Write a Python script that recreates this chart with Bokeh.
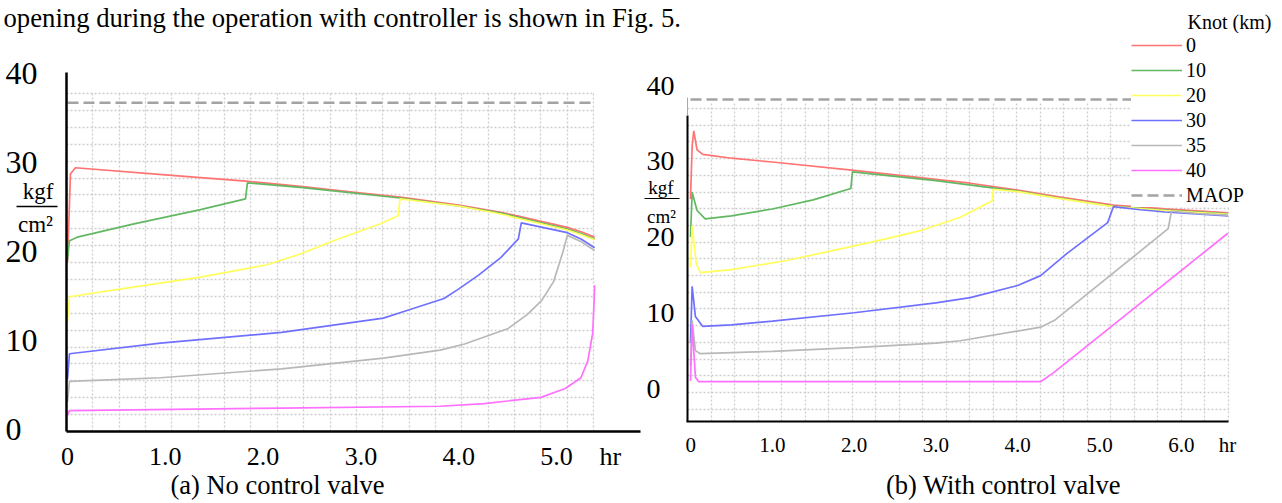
from bokeh.plotting import figure
from bokeh.layouts import row
from bokeh.models import Range1d, FixedTicker, Grid, LinearAxis, Legend, LegendItem
from bokeh.core.properties import value
from bokeh.embed import file_html
from bokeh.resources import INLINE

FONT = "Liberation Serif"

# ---------------- data: (a) No control valve ----------------
a_red_t = [0, 0.03, 0.08, 1.0, 1.82, 2.38, 2.89, 3.4, 4.0, 4.43, 4.63, 5.11, 5.25, 5.39]
a_red_v = [18.7, 28.6, 29.3, 28.5, 27.8, 27.2, 26.6, 26.0, 25.1, 24.3, 23.8, 22.6, 22.1, 21.5]
a_green_t = [0, 0.02, 0.1, 0.68, 1.36, 1.82, 1.84, 2.38, 3.4, 4.0, 4.43, 5.11, 5.25, 5.39]
a_green_v = [19.0, 21.1, 21.5, 23.0, 24.6, 25.8, 27.6, 27.1, 25.9, 25.0, 24.2, 22.4, 21.9, 21.3]
a_yellow_t = [0, 0.02, 0.5, 1.36, 2.04, 2.38, 2.72, 3.2, 3.38, 3.40, 4.0, 4.43, 5.11, 5.25, 5.39]
a_yellow_v = [12.0, 14.8, 15.6, 17.0, 18.4, 19.6, 21.1, 23.0, 23.9, 25.8, 25.0, 24.1, 22.3, 21.8, 21.2]
a_blue_t = [0, 0.02, 0.95, 2.19, 3.23, 3.4, 3.85, 3.99, 4.2, 4.43, 4.61, 4.64, 5.11, 5.25, 5.39]
a_blue_v = [5.5, 8.4, 9.6, 10.8, 12.4, 13.0, 14.6, 15.6, 17.2, 19.2, 21.3, 23.1, 22.0, 21.3, 20.3]
a_gray_t = [0, 0.02, 0.95, 2.19, 3.23, 3.81, 4.06, 4.5, 4.7, 4.85, 4.97, 5.07, 5.11, 5.25, 5.39]
a_gray_v = [3.0, 5.3, 5.7, 6.7, 7.9, 8.8, 9.5, 11.2, 12.8, 14.4, 16.5, 20.0, 21.7, 21.0, 20.0]
a_pink_t = [0, 0.02, 2.19, 3.81, 4.26, 4.84, 5.09, 5.25, 5.32, 5.37, 5.385, 5.39]
a_pink_v = [1.5, 2.0, 2.3, 2.5, 2.8, 3.5, 4.5, 5.7, 7.6, 10.7, 14.4, 16.1]
a_maop_t = [0, 5.39]
a_maop_v = [36.6, 36.6]

# ---------------- data: (b) With control valve ----------------
b_red_t = [0, 0.02, 0.04, 0.08, 0.15, 0.5, 1.0, 2.0, 3.0, 3.42, 4.0, 4.5, 5.17, 5.8, 6.57]
b_red_v = [25.0, 32.0, 34.0, 31.5, 30.9, 30.4, 29.9, 28.8, 27.6, 27.1, 26.2, 25.3, 24.2, 23.7, 23.2]
b_green_t = [0, 0.02, 0.08, 0.18, 0.5, 1.0, 1.5, 1.96, 1.98, 3.0, 4.0, 4.5, 5.17, 5.8, 6.57]
b_green_v = [20.0, 25.9, 23.5, 22.4, 22.8, 23.7, 24.9, 26.4, 28.6, 27.45, 26.05, 25.15, 24.05, 23.55, 23.05]
b_yellow_t = [0, 0.02, 0.07, 0.12, 0.5, 1.18, 2.2, 2.8, 3.3, 3.69, 3.7, 4.0, 4.5, 5.17, 5.8, 6.57]
b_yellow_v = [16.0, 21.5, 16.5, 15.3, 15.7, 16.9, 19.3, 20.8, 22.6, 24.8, 26.3, 26.0, 25.1, 24.0, 23.5, 23.0]
b_blue_t = [0, 0.02, 0.06, 0.15, 0.5, 1.0, 2.0, 3.0, 3.42, 4.0, 4.28, 4.6, 5.1, 5.17, 5.5, 5.8, 6.57]
b_blue_v = [6.0, 13.5, 9.5, 8.2, 8.4, 8.9, 10.0, 11.3, 12.0, 13.6, 14.9, 17.8, 21.9, 24.0, 23.6, 23.3, 22.8]
b_gray_t = [0, 0.02, 0.06, 0.12, 1.0, 2.0, 3.0, 3.3, 4.28, 4.45, 5.84, 5.88, 6.2, 6.57]
b_gray_v = [3.0, 9.0, 5.0, 4.6, 4.9, 5.4, 6.0, 6.3, 8.1, 9.0, 21.1, 23.4, 23.1, 22.9]
b_pink_t = [0, 0.02, 0.06, 0.1, 4.28, 4.44, 6.57]
b_pink_v = [1.0, 8.5, 1.5, 0.9, 0.9, 2.1, 20.5]
b_maop_t = [0, 6.57]
b_maop_v = [38.15, 38.15]

legend_labels = ["0", "10", "20", "30", "35", "40", "MAOP"]
legend_title = "Knot (km)"
y_ticks = [0, 10, 20, 30, 40]
a_y_labels = ["0\u2007", "10", "20", "30", "40"]
a_x_ticks = [0, 1, 2, 3, 4, 5, 5.55]
a_x_labels = ["0", "1.0", "2.0", "3.0", "4.0", "5.0", "hr"]
b_x_ticks = [0, 1, 2, 3, 4, 5, 6, 6.565]
b_x_labels = ["0", "1.0", "2.0", "3.0", "4.0", "5.0", "6.0", "hr"]
header_text = "opening during the operation with controller is shown in Fig. 5."
caption_a = "(a) No control valve"
caption_b = "(b) With control valve"
unit_top = "kgf"
unit_bottom = "cm\u00b2"

COLORS = ["#ff7373", "#62b862", "#ffff5c", "#7070ff", "#b8b8b8", "#ff70ff"]
MAOP_COLOR = "#a3a3a3"
GRID_COLOR = "#cdcdcd"


# picture pixel -> data helpers, used only to place texts and axis rules (layout)
def ax_(px):
    return (px - 67) / 97.8


def ay_(py):
    return (428 - py) / 8.9


def bx_(px):
    return (px - 690) / 81.8


def by_(py):
    return (388 - py) / 7.575


def style_common(p):
    p.outline_line_color = None
    p.background_fill_color = "white"
    p.border_fill_color = "white"
    for g in p.xgrid + p.ygrid:
        g.grid_line_color = None


def add_grid(p, gx_rng, gy_rng, xt, yt, xcb, ycb):
    p.extra_x_ranges = {"gx": Range1d(*gx_rng)}
    p.extra_y_ranges = dict(p.extra_y_ranges, gy=Range1d(*gy_rng))
    kw = dict(x_range_name="gx", y_range_name="gy", grid_line_color=GRID_COLOR,
              grid_line_dash="2 2", grid_line_width=1.3)
    p.add_layout(Grid(dimension=0, ticker=FixedTicker(ticks=xt), cross_bounds=xcb, **kw))
    p.add_layout(Grid(dimension=1, ticker=FixedTicker(ticks=yt), cross_bounds=ycb, **kw))


def txt(p, x, y, text, size, align="left"):
    # y is the vertical middle of the text line
    p.text(x=[x], y=[y], text=[text], text_font=value(FONT), text_font_size=value(size),
           text_color="black", text_align=align, text_baseline="middle", level="overlay")


def style_axis(ax, width):
    ax.axis_line_color = "black"
    ax.axis_line_width = width
    ax.major_tick_line_color = None
    ax.minor_tick_line_color = None
    ax.major_label_text_font = FONT
    ax.major_label_text_color = "black"


W, H = 1282, 503
W_A = 685
# both figures share the same top/bottom borders (frames are aligned in a row):
# frames from y=20 to y=431
TOP_B = 20
BOT_B = H - 431

# ================= panel (a) =================
pa = figure(width=W_A, height=H, output_backend="svg", toolbar_location=None, title=None,
            x_range=Range1d(ax_(66), ax_(640)), y_range=Range1d(ay_(431), ay_(20)),
            min_border_left=66, min_border_right=W_A - 640, min_border_top=TOP_B,
            min_border_bottom=BOT_B)
style_common(pa)
add_grid(pa, (0, 21.78), (0, 24.32), list(range(1, 21)), list(range(1, 21)), (0, 20), (0, 20))

for t, v, c in zip([a_red_t, a_green_t, a_yellow_t, a_blue_t, a_gray_t, a_pink_t],
                   [a_red_v, a_green_v, a_yellow_v, a_blue_v, a_gray_v, a_pink_v], COLORS):
    pa.line(t, v, line_color=c, line_width=1.7)
pa.line(a_maop_t, a_maop_v, line_color=MAOP_COLOR, line_width=2.5, line_dash="11 5")

pa.xaxis.ticker = FixedTicker(ticks=a_x_ticks)
pa.xaxis.major_label_overrides = dict(zip(a_x_ticks, a_x_labels))
pa.xaxis.major_label_text_font_size = "26px"
pa.xaxis.major_label_standoff = 4
pa.yaxis.ticker = FixedTicker(ticks=y_ticks)
pa.yaxis.major_label_overrides = dict(zip(y_ticks, a_y_labels))
pa.yaxis.major_label_text_font_size = "32px"
pa.yaxis.major_label_standoff = 23
pa.yaxis.bounds = (ay_(431), ay_(71.5))
for ax in pa.xaxis + pa.yaxis:
    style_axis(ax, 2.5)

# value scale of panel (b), drawn just left of panel (b)
pa.extra_y_ranges = dict(pa.extra_y_ranges, ry=Range1d(by_(431), by_(20)))
ax_b = LinearAxis(y_range_name="ry", ticker=FixedTicker(ticks=y_ticks),
                  axis_line_color=None, major_tick_line_color=None, minor_tick_line_color=None,
                  major_label_text_font=FONT, major_label_text_font_size="28px",
                  major_label_text_color="black", major_label_standoff=0)
pa.add_layout(ax_b, "right")

txt(pa, ax_(3), ay_(17), header_text, "26.7px")
txt(pa, ax_(277), ay_(484), caption_a, "26.5px", "center")
txt(pa, ax_(37.5), ay_(190.5), unit_top, "23px", "center")
txt(pa, ax_(35), ay_(223.5), unit_bottom, "23px", "center")
pa.segment(x0=[ax_(16)], y0=[ay_(206)], x1=[ax_(57)], y1=[ay_(206)],
           line_color="black", line_width=1.4, level="overlay")
txt(pa, ax_(660.5), ay_(186.5), unit_top, "19px", "center")
txt(pa, ax_(661), ay_(215.5), unit_bottom, "19px", "center")
pa.segment(x0=[ax_(644)], y0=[ay_(198)], x1=[ax_(679)], y1=[ay_(198)],
           line_color="black", line_width=1.2, level="overlay")

# ================= panel (b) =================
pb = figure(width=W - W_A, height=H, output_backend="svg", toolbar_location=None, title=None,
            x_range=Range1d(bx_(687), bx_(W)), y_range=Range1d(by_(431), by_(20)),
            y_axis_location=None,
            min_border_left=2, min_border_right=0, min_border_top=TOP_B, min_border_bottom=BOT_B)
style_common(pb)
add_grid(pb, (0, (W - 687) / 23.5), (-1.341, 23.27), list(range(1, 24)), list(range(0, 19)),
         (-0.743, 18.3), (0, 23.02))

rb = []
for t, v, c in zip([b_red_t, b_green_t, b_yellow_t, b_blue_t, b_gray_t, b_pink_t],
                   [b_red_v, b_green_v, b_yellow_v, b_blue_v, b_gray_v, b_pink_v], COLORS):
    rb.append(pb.line(t, v, line_color=c, line_width=1.7))
rb.append(pb.line(b_maop_t, b_maop_v, line_color=MAOP_COLOR, line_width=2.5, line_dash="11 5"))

pb.xaxis.ticker = FixedTicker(ticks=b_x_ticks)
pb.xaxis.major_label_overrides = dict(zip(b_x_ticks, b_x_labels))
pb.xaxis.major_label_text_font_size = "21px"
pb.xaxis.major_label_standoff = -5
for ax in pb.xaxis:
    style_axis(ax, 2)
    ax.axis_line_color = None

# axis rules of panel (b): horizontal at y=421, vertical at x=687
pb.segment(x0=[bx_(686)], y0=[by_(421)], x1=[bx_(1228)], y1=[by_(421)],
           line_color="black", line_width=2, level="overlay")
pb.segment(x0=[bx_(687)], y0=[by_(421)], x1=[bx_(687)], y1=[by_(115)],
           line_color="black", line_width=2, level="overlay")
pb.segment(x0=[bx_(687)], y0=[by_(115)], x1=[bx_(687)], y1=[by_(97)],
           line_color="#aaaaaa", line_width=1, level="overlay")

legend = Legend(items=[LegendItem(label=l, renderers=[r]) for l, r in zip(legend_labels, rb)],
                location=(444, 224), background_fill_color="white", background_fill_alpha=1,
                border_line_color=None, label_text_font=FONT, label_text_font_size="20px",
                label_text_color="black", glyph_width=51, glyph_height=24, label_height=24,
                label_standoff=4, spacing=1, padding=1, margin=0)
pb.add_layout(legend)
txt(pb, bx_(1187), by_(21), legend_title, "20px")
txt(pb, bx_(1003), by_(484), caption_b, "26.5px", "center")

layout = row(pa, pb)
open("out.html", "w").write(file_html(layout, INLINE))
